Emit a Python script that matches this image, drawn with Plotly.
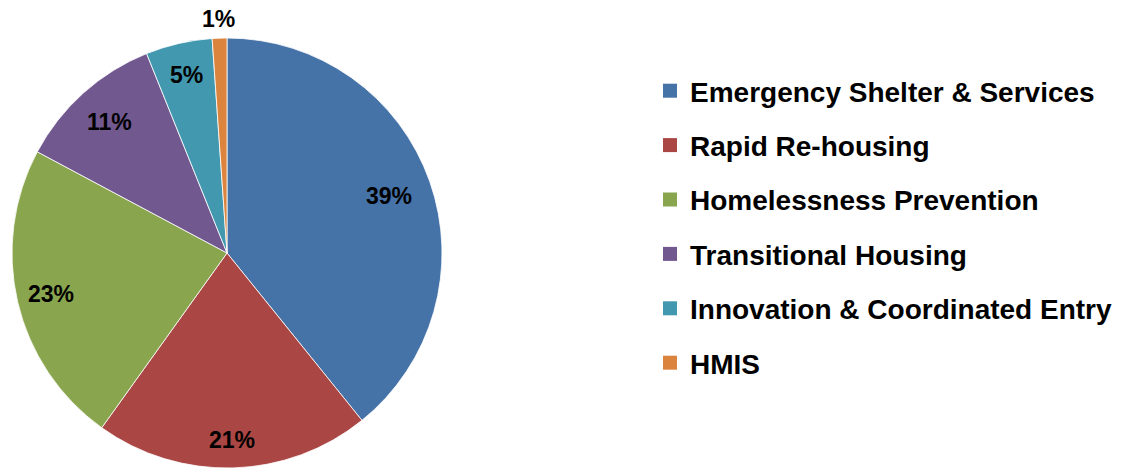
import math
import plotly.graph_objects as go

categories = ["Emergency Shelter & Services", "Rapid Re-housing", "Homelessness Prevention",
              "Transitional Housing", "Innovation & Coordinated Entry", "HMIS"]
values = [39.2, 20.7, 22.9, 11.1, 5.0, 1.1]
colors = ["#4572A7", "#AA4643", "#89A54E", "#71588F", "#4198AF", "#DB843D"]
label_radius = [0.80, 0.87, 0.84, 0.82, 0.85, 1.09]  # label distance as a fraction of the radius

W, H = 1129, 468
CX, CY, R = 227, 253, 215  # pie centre / radius in pixels (layout)
font_family = "Liberation Sans, Arial, sans-serif"

fig = go.Figure()
fig.add_trace(go.Pie(
    labels=categories, values=values, sort=False, direction="clockwise", rotation=0,
    marker=dict(colors=colors, line=dict(color="white", width=0.8)),
    textinfo="none", showlegend=False, hoverinfo="label+percent",
    domain=dict(x=[(CX - R) / W, (CX + R) / W], y=[(H - CY - R) / H, (H - CY + R) / H]),
))
for i, (c, col) in enumerate(zip(categories, colors)):
    fig.add_trace(go.Scatter(
        x=[None], y=[None], mode="markers", name=c, legendgroup=str(i),
        marker=dict(symbol="square", size=14, color=col),
    ))

# percentage labels positioned from the slice data
total = sum(values)
cum = 0.0
for v, f in zip(values, label_radius):
    mid = (cum + v / 2) / total * 2 * math.pi
    cum += v
    px = CX + R * f * math.sin(mid)
    py = CY - R * f * math.cos(mid)
    fig.add_annotation(
        x=px / W, y=(H - py) / H, xref="paper", yref="paper", showarrow=False,
        text=f"<b>{round(v / total * 100)}%</b>",
        font=dict(family=font_family, size=23, color="black"),
        xanchor="center", yanchor="middle",
    )

fig.update_layout(
    width=W, height=H, margin=dict(l=0, r=0, t=0, b=0),
    paper_bgcolor="white", plot_bgcolor="white",
    xaxis=dict(visible=False), yaxis=dict(visible=False),
    legend=dict(x=650 / W, xanchor="left", y=(H - 66) / H, yanchor="top",
                font=dict(family=font_family, size=28, color="black", weight="bold"),
                tracegroupgap=15, itemwidth=30, bgcolor="rgba(0,0,0,0)"),
)
fig.write_html("out.html", config={"displayModeBar": False},
               post_script="document.body.style.margin='0';")
